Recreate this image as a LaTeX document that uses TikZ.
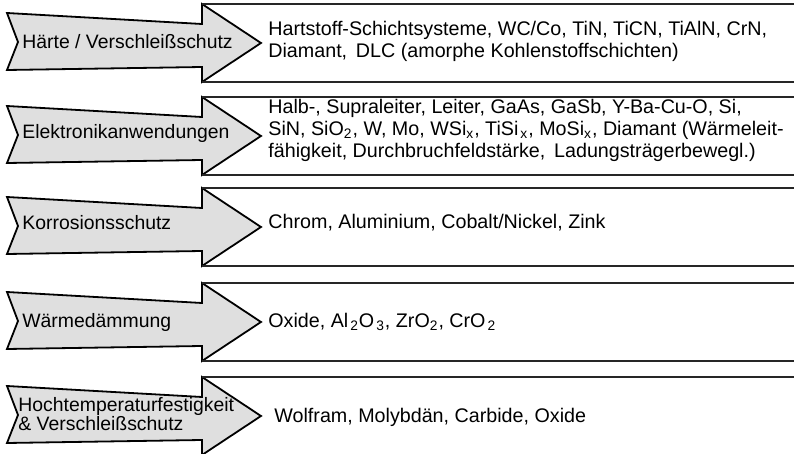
\documentclass[tikz,border=0pt]{standalone}
\usepackage{fontspec}
\setmainfont{Liberation Sans}
\usetikzlibrary{positioning}

\begin{document}
\begin{tikzpicture}[x=0.5pt, y=-0.5pt,
                          fieldarrow/.pic={
                            \draw[line width=0.9pt, fill=gray!25]
                              (7,9) -- (202,20) -- (202,0) -- (261,39) -- (202,78) -- (202,63)
                              -- (7,66) -- (18,38) -- cycle;
                            \coordinate (-top) at (202,0);
                            \coordinate (-bot) at (202,78);
                          },
                          fieldtext/.style={anchor=west, align=left, inner sep=0pt, font=\fontsize{9.7}{9.2}\selectfont},
                          listtext/.style={anchor=west, align=left, inner sep=0pt, font=\fontsize{9.85}{11}\selectfont},
                          boxline/.style={draw=black!85, line width=0.7pt},
                      ]
                      \useasboundingbox (0,0) rectangle (794,454);
                      \coordinate (rim) at (794,0);

                      %Arrows
                      \pic (a1) at (0,4)   {fieldarrow};
                      \pic (a2) at (0,97)  {fieldarrow};
                      \pic (a3) at (0,188) {fieldarrow};
                      \pic (a4) at (0,283) {fieldarrow};
                      \pic (a5) at (0,377) {fieldarrow};

                      %Nodes
                      \node[fieldtext] (use1) at (22,42)  {Härte / Verschleißschutz};
                      \node[fieldtext] (use2) at (22,133) {Elektronikanwendungen};
                      \node[fieldtext] (use3) at (22,223) {Korrosionsschutz};
                      \node[fieldtext] (use4) at (22,322) {Wärmedämmung};
                      \node[fieldtext] (use5) at (18,414) {Hochtemperaturfestigkeit\\\& Verschleißschutz};

                      \node[listtext] (mat1) at (268,41)  {Hartstoff-Schichtsysteme, WC/Co, TiN, TiCN, TiAlN, CrN,\\Diamant, \,DLC (amorphe Kohlenstoffschichten)};
                      \node[listtext] (mat2) at (268,130) {Halb-, Supraleiter, Leiter, GaAs, GaSb, Y-Ba-Cu-O, Si,\\SiN, SiO\textsubscript{2}, W, Mo, WSi\textsubscript{x}, TiSi\kern1pt\textsubscript{x}, MoSi\textsubscript{x}, Diamant (Wärmeleit-\\fähigkeit, Durchbruchfeldstärke, \,Ladungsträgerbewegl.)};
                      \node[listtext] (mat3) at (268,223) {Chrom, Aluminium, Cobalt/Nickel, Zink};
                      \node[listtext] (mat4) at (268,322) {Oxide, Al\kern1pt\textsubscript{2}O\kern1pt\textsubscript{3}, ZrO\textsubscript{2}, CrO\kern1pt\textsubscript{2}};
                      \node[listtext] (mat5) at (274,417) {Wolfram, Molybdän, Carbide, Oxide};

                      %Lines
                      \draw[boxline] (a1-top) -- (a1-top -| rim);
                      \draw[boxline] (a1-bot) -- (a1-bot -| rim);
                      \draw[boxline] (a2-top) -- (a2-top -| rim);
                      \draw[boxline] (a2-bot) -- (a2-bot -| rim);
                      \draw[boxline] (a3-top) -- (a3-top -| rim);
                      \draw[boxline] (a3-bot) -- (a3-bot -| rim);
                      \draw[boxline] (a4-top) -- (a4-top -| rim);
                      \draw[boxline] (a4-bot) -- (a4-bot -| rim);
                      \draw[boxline] (a5-top) -- (a5-top -| rim);
                  \end{tikzpicture}
\end{document}
